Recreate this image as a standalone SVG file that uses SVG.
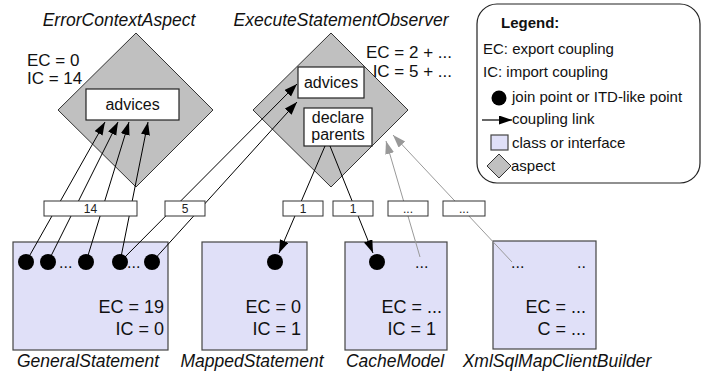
<svg xmlns="http://www.w3.org/2000/svg" width="712" height="373" viewBox="0 0 712 373">
<style>
text{font-family:"Liberation Sans",Arial,sans-serif;fill:#111}
.t{font-size:16px}
.s{font-size:17px}
.st{font-size:18px;text-anchor:end}
.title{font-size:17.5px;font-style:italic;text-anchor:middle}
.lbl{font-size:12px;text-anchor:middle;fill:#222}
.lg{font-size:15px}
.asp{fill:#c0c0c0;stroke:#333;stroke-width:1}
.cls{fill:#e0e0f8;stroke:#444;stroke-width:1.2}
.box{fill:#fff;stroke:#222;stroke-width:1.2}
.lb{fill:#fff;stroke:#333;stroke-width:1}
.c{stroke:#000;stroke-width:1;fill:none}
.g{stroke:#999;stroke-width:1;fill:none}
.e{text-anchor:end}
.m{text-anchor:middle}
</style>
<defs>
<marker id="ah" markerUnits="userSpaceOnUse" markerWidth="14" markerHeight="10" refX="13" refY="4.5" orient="auto"><path d="M0,0 L13,4.5 L0,9 Z" fill="#000"/></marker>
<marker id="ahg" markerUnits="userSpaceOnUse" markerWidth="14" markerHeight="10" refX="13" refY="4.5" orient="auto"><path d="M0,0 L13,4.5 L0,9 Z" fill="#999"/></marker>
</defs>

<g id="ErrorContextAspect">
<polygon class="asp" points="136,33 213,110 136,187 58,110"/>
<rect class="box" x="86" y="89" width="93" height="31"/>
<text class="t m" x="132.5" y="110">advices</text>
<text class="title" x="119" y="26">ErrorContextAspect</text>
<text class="s" x="27" y="66">EC = 0</text>
<text class="s" x="27" y="84">IC = 14</text>
</g>

<g id="ExecuteStatementObserver">
<polygon class="asp" points="331,33 408,110 331,187 253,110"/>
<rect class="box" x="298" y="67" width="66" height="31"/>
<text class="t m" x="331" y="88">advices</text>
<rect class="box" x="304" y="108" width="68" height="38"/>
<text class="t m" x="338" y="123">declare</text>
<text class="t m" x="338" y="140">parents</text>
<text class="title" x="341" y="26">ExecuteStatementObserver</text>
<text class="s e" x="452" y="58">EC = 2 + ...</text>
<text class="s e" x="452" y="77">IC = 5 + ...</text>
</g>

<g id="legend">
<rect x="477" y="4" width="223" height="179" rx="20" ry="20" fill="#fff" stroke="#222" stroke-width="1.2"/>
<text x="501" y="28" style="font-size:15px;font-weight:bold">Legend:</text>
<text class="lg" x="483" y="54">EC: export coupling</text>
<text class="lg" x="483" y="77">IC: import coupling</text>
<circle cx="499" cy="98" r="7.5" fill="#000"/>
<text class="lg" x="512" y="102">join point or ITD-like point</text>
<line x1="482" y1="120" x2="512" y2="120" stroke="#000" stroke-width="1.2" marker-end="url(#ah)"/>
<text class="lg" x="512" y="124">coupling link</text>
<rect class="cls" x="491" y="135" width="17" height="15"/>
<text class="lg" x="512" y="148">class or interface</text>
<polygon class="asp" points="499,154 511,166 499,178 487,166"/>
<text class="lg" x="511" y="171">aspect</text>
</g>

<g id="GeneralStatement">
<rect class="cls" x="13" y="242" width="155" height="108"/>
<circle cx="26" cy="262" r="8" fill="#000"/>
<circle cx="48" cy="262" r="8" fill="#000"/>
<circle cx="86" cy="262" r="8" fill="#000"/>
<circle cx="120" cy="262" r="8" fill="#000"/>
<circle cx="152" cy="262" r="8" fill="#000"/>
<text class="t" x="59" y="268">...</text>
<text class="t" x="127" y="268">...</text>
<text class="st" x="164" y="313">EC = 19</text>
<text class="st" x="164" y="335">IC = 0</text>
<text class="title" x="88" y="367">GeneralStatement</text>
</g>

<g id="MappedStatement">
<rect class="cls" x="202" y="242" width="105" height="108"/>
<circle cx="275" cy="262" r="8" fill="#000"/>
<text class="st" x="301" y="313">EC = 0</text>
<text class="st" x="301" y="335">IC = 1</text>
<text class="title" x="252" y="367">MappedStatement</text>
</g>

<g id="CacheModel">
<rect class="cls" x="345" y="242" width="102" height="108"/>
<circle cx="377" cy="262" r="8" fill="#000"/>
<text class="t" x="415" y="268">...</text>
<text class="st" x="442" y="313">EC = ...</text>
<text class="st" x="436" y="335">IC = 1</text>
<text class="title" x="395" y="367">CacheModel</text>
</g>

<g id="XmlSqlMapClientBuilder">
<rect class="cls" x="493" y="241" width="103" height="108"/>
<text class="t" x="511" y="268">...</text>
<text class="t" x="577" y="268">..</text>
<text class="st" x="586" y="313">EC = ...</text>
<text class="st" x="586" y="335">C = ...</text>
<text class="title" x="557" y="367">XmlSqlMapClientBuilder</text>
</g>

<g id="connectors">
<line class="c" x1="26" y1="262" x2="105" y2="122" marker-end="url(#ah)"/>
<line class="c" x1="48" y1="262" x2="118" y2="122" marker-end="url(#ah)"/>
<line class="c" x1="86" y1="262" x2="129" y2="122" marker-end="url(#ah)"/>
<line class="c" x1="120" y1="262" x2="148" y2="122" marker-end="url(#ah)"/>
<line class="c" x1="120" y1="262" x2="297" y2="84" marker-end="url(#ah)"/>
<line class="c" x1="152" y1="262" x2="297" y2="102" marker-end="url(#ah)"/>
<line class="c" x1="325" y1="146" x2="279" y2="253" marker-end="url(#ah)"/>
<line class="c" x1="330" y1="146" x2="373" y2="253" marker-end="url(#ah)"/>
<line class="g" x1="420" y1="257" x2="386" y2="141" marker-end="url(#ahg)"/>
<line class="g" x1="512" y1="262" x2="393" y2="135" marker-end="url(#ahg)"/>
<rect class="lb" x="44" y="201" width="93" height="15"/>
<text class="lbl" x="90.5" y="213">14</text>
<rect class="lb" x="165" y="201" width="40" height="15"/>
<text class="lbl" x="185" y="213">5</text>
<rect class="lb" x="283" y="201" width="40" height="15"/>
<text class="lbl" x="303" y="213">1</text>
<rect class="lb" x="333" y="201" width="40" height="15"/>
<text class="lbl" x="353" y="213">1</text>
<rect class="lb" x="388" y="201" width="40" height="15"/>
<text class="lbl" x="408" y="213">...</text>
<rect class="lb" x="443" y="201" width="42" height="15"/>
<text class="lbl" x="464" y="213">...</text>
</g>
</svg>
